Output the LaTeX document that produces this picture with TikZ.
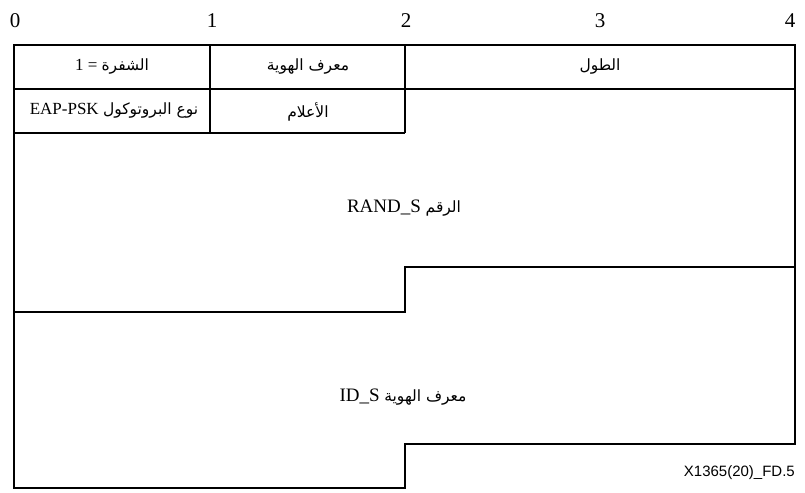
\documentclass[tikz,border=0pt]{standalone}
\usepackage{fontspec}
\setmainfont{Liberation Serif}
\newfontfamily\arabicfont[Script=Arabic]{DejaVu Sans}
\newfontfamily\labelfont{Liberation Sans}
\TeXXeTstate=1
\newcommand{\ar}[1]{{\arabicfont\fontsize{15.5bp}{18bp}\selectfont\beginR #1\endR}}
\begin{document}
\begin{tikzpicture}[x=1bp,y=-1bp,
  frame/.style={line width=1.4bp, line join=miter},
  num/.style={inner sep=0pt, font=\fontsize{21bp}{24bp}\selectfont},
  cell/.style={inner sep=0pt, font=\fontsize{17bp}{20bp}\selectfont},
  big/.style={inner sep=0pt, font=\fontsize{19bp}{22bp}\selectfont},
  tag/.style={inner sep=0pt, anchor=east, font=\labelfont\fontsize{15bp}{18bp}\selectfont}]
\useasboundingbox (0,0) rectangle (805,493);
% frame
\draw[frame] (14,45) -- (795,45) -- (795,444) -- (405,444) -- (405,488) -- (14,488) -- cycle;
\draw[frame] (14,89) -- (795,89);
\draw[frame] (14,133) -- (405,133);
\draw[frame] (210,45) -- (210,133);
\draw[frame] (405,45) -- (405,133);
\draw[frame] (14,312) -- (405,312) -- (405,267) -- (795,267);
% bit numbers
\node[num] (n0) at (15,21) {0};
\node[num] (n1) at (212,21) {1};
\node[num] (n2) at (406,21) {2};
\node[num] (n3) at (600,21) {3};
\node[num] (n4) at (790,21) {4};
% cells
\node[cell] (code) at (112,67) {1 = \ar{الشفرة}};
\node[cell] (ident) at (308,67) {\ar{معرف الهوية}};
\node[cell] (len) at (600,67) {\ar{الطول}};
\node[cell] (ptype) at (114,111) {EAP-PSK \ar{نوع البروتوكول}};
\node[cell] (flags) at (308,112) {\ar{الأعلام}};
\node[big] (rand) at (404,208) {RAND\_S \ar{الرقم}};
\node[big] (ids) at (403,397) {ID\_S \ar{معرف الهوية}};
\node[tag] (fig) at (795,473) {X1365(20)\_FD.5};
\end{tikzpicture}
\end{document}
